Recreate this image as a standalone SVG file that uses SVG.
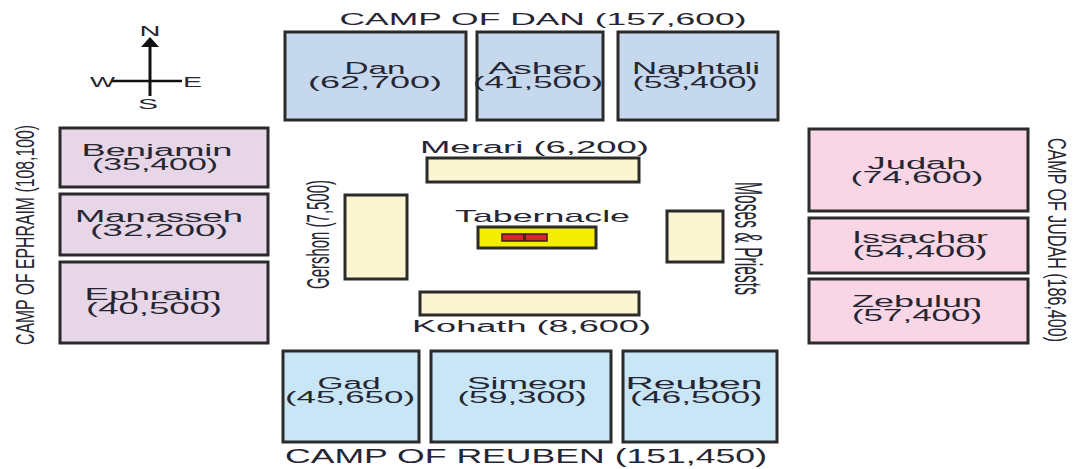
<svg xmlns="http://www.w3.org/2000/svg" width="1076" height="469" viewBox="0 0 1076 469">
<style>
  text { font-family: "Liberation Sans", Arial, sans-serif; fill: #262632; }
  .lbl { font-size: 16px; text-anchor: middle; }
  .ttl { text-anchor: middle; }
  .box { stroke: #2b2b2b; stroke-width: 3; }
  .dan { fill: #c6d8ee; }
  .reu { fill: #c9e6f7; }
  .eph { fill: #e6d6e7; }
  .jud { fill: #f8d6e6; }
  .lev { fill: #fbf5d2; stroke: #2b2b2b; stroke-width: 3; }
</style>
<rect width="1076" height="469" fill="#ffffff"/>

<g id="compass">
  <line x1="150" y1="45" x2="150" y2="96" stroke="#111" stroke-width="3"/>
  <polygon points="150,37 141,47 159,47" fill="#111"/>
  <line x1="112" y1="81" x2="182" y2="81" stroke="#111" stroke-width="2.5"/>
  <text x="150" y="36" style="font-size:15px" text-anchor="middle" textLength="21" lengthAdjust="spacingAndGlyphs">N</text>
  <text x="102.5" y="87" style="font-size:14px" text-anchor="middle" textLength="25" lengthAdjust="spacingAndGlyphs">W</text>
  <text x="192.5" y="87" style="font-size:14px" text-anchor="middle" textLength="19" lengthAdjust="spacingAndGlyphs">E</text>
  <text x="148" y="109" style="font-size:15px" text-anchor="middle" textLength="20" lengthAdjust="spacingAndGlyphs">S</text>
</g>

<g id="connectors"></g>

<g id="camp-dan-label">
  <text class="ttl" x="543" y="25" style="font-size:17px" textLength="407" lengthAdjust="spacingAndGlyphs">CAMP OF DAN (157,600)</text>
</g>
<g id="dan">
  <rect class="box dan" x="285" y="32" width="181" height="88"/>
  <text class="lbl" x="375" y="74" textLength="61" lengthAdjust="spacingAndGlyphs">Dan</text>
  <text class="lbl" x="375" y="88" textLength="134" lengthAdjust="spacingAndGlyphs">(62,700)</text>
</g>
<g id="asher">
  <rect class="box dan" x="477" y="32" width="126" height="88"/>
  <text class="lbl" x="537" y="74" textLength="97" lengthAdjust="spacingAndGlyphs">Asher</text>
  <text class="lbl" x="538" y="88" textLength="130" lengthAdjust="spacingAndGlyphs">(41,500)</text>
</g>
<g id="naphtali">
  <rect class="box dan" x="618" y="32" width="160" height="88"/>
  <text class="lbl" x="696" y="74" textLength="128" lengthAdjust="spacingAndGlyphs">Naphtali</text>
  <text class="lbl" x="695" y="88" textLength="125" lengthAdjust="spacingAndGlyphs">(53,400)</text>
</g>

<g id="camp-ephraim-label">
  <text class="ttl" transform="translate(34,235) rotate(-90)" x="0" y="0" style="font-size:25px" textLength="220" lengthAdjust="spacingAndGlyphs">CAMP OF EPHRAIM (108,100)</text>
</g>
<g id="benjamin">
  <rect class="box eph" x="60" y="128" width="208" height="59"/>
  <text class="lbl" x="157" y="156" textLength="151" lengthAdjust="spacingAndGlyphs">Benjamin</text>
  <text class="lbl" x="155" y="170" textLength="126" lengthAdjust="spacingAndGlyphs">(35,400)</text>
</g>
<g id="manasseh">
  <rect class="box eph" x="60" y="194" width="208" height="61"/>
  <text class="lbl" x="159" y="222" textLength="168" lengthAdjust="spacingAndGlyphs">Manasseh</text>
  <text class="lbl" x="159" y="236" textLength="138" lengthAdjust="spacingAndGlyphs">(32,200)</text>
</g>
<g id="ephraim">
  <rect class="box eph" x="60" y="262" width="208" height="81"/>
  <text class="lbl" x="153" y="300" textLength="137" lengthAdjust="spacingAndGlyphs">Ephraim</text>
  <text class="lbl" x="154" y="314" textLength="136" lengthAdjust="spacingAndGlyphs">(40,500)</text>
</g>

<g id="camp-judah-label">
  <text class="ttl" transform="translate(1048,240) rotate(90)" x="0" y="0" style="font-size:26px" textLength="204" lengthAdjust="spacingAndGlyphs">CAMP OF JUDAH (186,400)</text>
</g>
<g id="judah">
  <rect class="box jud" x="809" y="129" width="219" height="82"/>
  <text class="lbl" x="917" y="169" textLength="99" lengthAdjust="spacingAndGlyphs">Judah</text>
  <text class="lbl" x="917" y="183" textLength="133" lengthAdjust="spacingAndGlyphs">(74,600)</text>
</g>
<g id="issachar">
  <rect class="box jud" x="809" y="218" width="219" height="55"/>
  <text class="lbl" x="920" y="243" textLength="136" lengthAdjust="spacingAndGlyphs">Issachar</text>
  <text class="lbl" x="920" y="257" textLength="135" lengthAdjust="spacingAndGlyphs">(54,400)</text>
</g>
<g id="zebulun">
  <rect class="box jud" x="809" y="279" width="219" height="64"/>
  <text class="lbl" x="917" y="307" textLength="130" lengthAdjust="spacingAndGlyphs">Zebulun</text>
  <text class="lbl" x="917" y="321" textLength="130" lengthAdjust="spacingAndGlyphs">(57,400)</text>
</g>

<g id="gad">
  <rect class="box reu" x="283" y="351" width="136" height="91"/>
  <text class="lbl" x="349" y="389" textLength="63" lengthAdjust="spacingAndGlyphs">Gad</text>
  <text class="lbl" x="350" y="403" textLength="130" lengthAdjust="spacingAndGlyphs">(45,650)</text>
</g>
<g id="simeon">
  <rect class="box reu" x="431" y="351" width="180" height="91"/>
  <text class="lbl" x="527" y="389" textLength="120" lengthAdjust="spacingAndGlyphs">Simeon</text>
  <text class="lbl" x="522" y="403" textLength="129" lengthAdjust="spacingAndGlyphs">(59,300)</text>
</g>
<g id="reuben">
  <rect class="box reu" x="623" y="351" width="154" height="91"/>
  <text class="lbl" x="694" y="389" textLength="137" lengthAdjust="spacingAndGlyphs">Reuben</text>
  <text class="lbl" x="696" y="403" textLength="132" lengthAdjust="spacingAndGlyphs">(46,500)</text>
</g>
<g id="camp-reuben-label">
  <text class="ttl" x="526" y="463" style="font-size:21px" textLength="482" lengthAdjust="spacingAndGlyphs">CAMP OF REUBEN (151,450)</text>
</g>

<g id="merari">
  <text class="ttl" x="534.5" y="153" style="font-size:16px" textLength="229" lengthAdjust="spacingAndGlyphs">Merari (6,200)</text>
  <rect class="lev" x="427" y="158" width="212" height="24"/>
</g>
<g id="gershon">
  <rect class="lev" x="345" y="195" width="62" height="84"/>
  <text class="ttl" transform="translate(329,234.5) rotate(-90)" x="0" y="0" style="font-size:32px" textLength="109" lengthAdjust="spacingAndGlyphs">Gershon (7,500)</text>
</g>
<g id="tabernacle">
  <text class="ttl" x="542.5" y="222" style="font-size:17px" textLength="175" lengthAdjust="spacingAndGlyphs">Tabernacle</text>
  <rect x="478" y="227" width="118" height="21" fill="#f4ef00" stroke="#2b2b2b" stroke-width="3"/>
  <rect x="502" y="234" width="22" height="7" fill="#d8262b" stroke="#3a1a1a" stroke-width="1.5"/>
  <rect x="525" y="234" width="22" height="7" fill="#d8262b" stroke="#3a1a1a" stroke-width="1.5"/>
</g>
<g id="moses-priests">
  <rect class="lev" x="667" y="211" width="56" height="51"/>
  <text class="ttl" transform="translate(735,238.5) rotate(90)" x="0" y="0" style="font-size:38px" textLength="113" lengthAdjust="spacingAndGlyphs">Moses &amp; Priests</text>
</g>
<g id="kohath">
  <rect class="lev" x="420" y="292" width="219" height="23"/>
  <text class="ttl" x="531.5" y="332" style="font-size:16px" textLength="239" lengthAdjust="spacingAndGlyphs">Kohath (8,600)</text>
</g>
</svg>
